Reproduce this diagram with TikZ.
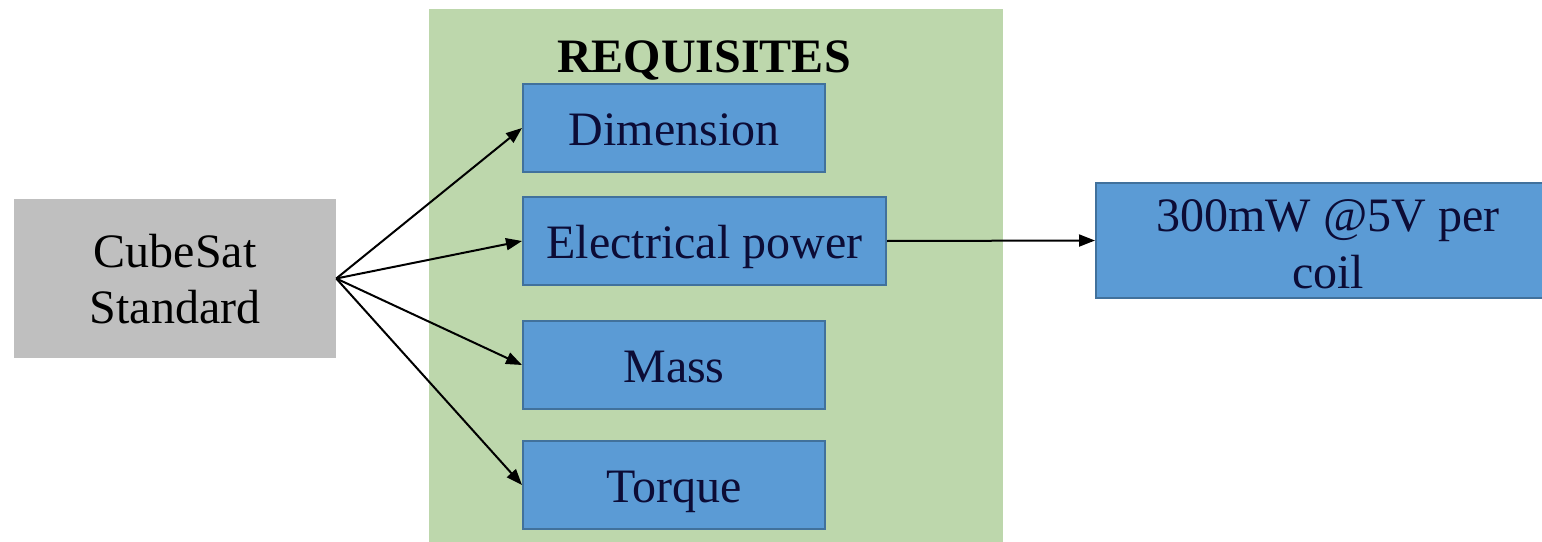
\documentclass[tikz,border=0pt]{standalone}
\usepackage{fontspec}
\setmainfont{Liberation Serif}
\usetikzlibrary{arrows.meta}
\definecolor{greenbg}{HTML}{BDD7AC}
\definecolor{bluefill}{HTML}{5B9BD5}
\definecolor{blueedge}{HTML}{41719C}
\definecolor{grayfill}{HTML}{BFBFBF}
\definecolor{navytext}{HTML}{0C0C36}
\tikzset{
  reqbox/.style={draw=blueedge, line width=1.5pt, fill=bluefill, text=navytext,
    inner sep=0pt, font=\fontsize{36}{43}\selectfont, text height=26pt, text depth=0pt},
  srcbox/.style={fill=grayfill, inner sep=0pt, text=black,
    font=\fontsize{36}{42}\selectfont},
  conn/.style={line width=1.5pt, -{Triangle[length=12pt,width=9pt]}}
}
\begin{document}
\begin{tikzpicture}[x=0.75pt,y=-0.75pt]
\useasboundingbox (0,0) rectangle (1542,542);
\begin{scope}
\clip (0,0) rectangle (1542,542);
\fill[greenbg] (429,9) rectangle (1003,545);
\node[font=\fontsize{36}{43}\selectfont\bfseries, inner sep=0pt, text height=24pt, text depth=0pt] (title) at (704,57) {REQUISITES};
\node[srcbox, minimum width=241.5pt, minimum height=119.25pt, text height=0pt, text depth=17.2pt] (cube) at (175,278.5)
  {\begin{tabular}[t]{@{}c@{}}CubeSat\\Standard\end{tabular}};
\node[reqbox, minimum width=226.5pt, minimum height=66pt] (dim) at (674,128) {Dimension};
\node[reqbox, minimum width=272.25pt, minimum height=66pt] (elec) at (704.5,241) {Electrical power};
\node[reqbox, minimum width=226.5pt, minimum height=66pt] (mass) at (674,365) {Mass};
\node[reqbox, minimum width=226.5pt, minimum height=66pt] (torque) at (674,485) {Torque};
\node[reqbox, minimum width=348pt, minimum height=86.25pt, text height=0pt, text depth=14.2pt] (res) at (1328,240.5)
  {\begin{tabular}[t]{@{}c@{}}300mW @5V per\\coil\end{tabular}};
\draw[conn] (cube.east) -- (dim.west);
\draw[conn] (cube.east) -- (elec.west);
\draw[conn] (cube.east) -- (mass.west);
\draw[conn] (cube.east) -- (torque.west);
\draw[conn] (elec.east) -- (res.west);
\end{scope}
\end{tikzpicture}
\end{document}
